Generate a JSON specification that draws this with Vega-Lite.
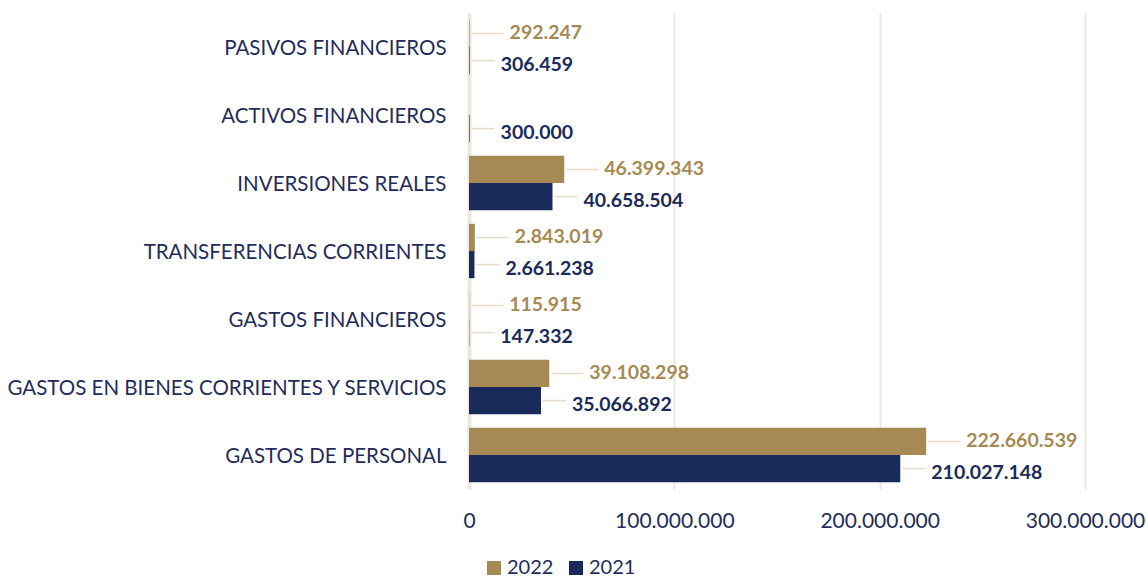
{
  "$schema": "https://vega.github.io/schema/vega-lite/v6.json",
  "autosize": "none",
  "width": 616,
  "height": 476,
  "padding": {"left": 469, "top": 13, "right": 62, "bottom": 90},
  "background": "white",
  "config": {
    "view": {"stroke": null},
    "font": "Lato",
    "locale": {"number": {"decimal": ",", "thousands": ".", "grouping": [3], "currency": ["", " €"]}}
  },
  "data": {
    "values": [
      {"categoria": "PASIVOS FINANCIEROS", "serie": "2022", "valor": 292247},
      {"categoria": "PASIVOS FINANCIEROS", "serie": "2021", "valor": 306459},
      {"categoria": "ACTIVOS FINANCIEROS", "serie": "2021", "valor": 300000},
      {"categoria": "INVERSIONES REALES", "serie": "2022", "valor": 46399343},
      {"categoria": "INVERSIONES REALES", "serie": "2021", "valor": 40658504},
      {"categoria": "TRANSFERENCIAS CORRIENTES", "serie": "2022", "valor": 2843019},
      {"categoria": "TRANSFERENCIAS CORRIENTES", "serie": "2021", "valor": 2661238},
      {"categoria": "GASTOS FINANCIEROS", "serie": "2022", "valor": 115915},
      {"categoria": "GASTOS FINANCIEROS", "serie": "2021", "valor": 147332},
      {"categoria": "GASTOS EN BIENES CORRIENTES Y SERVICIOS", "serie": "2022", "valor": 39108298},
      {"categoria": "GASTOS EN BIENES CORRIENTES Y SERVICIOS", "serie": "2021", "valor": 35066892},
      {"categoria": "GASTOS DE PERSONAL", "serie": "2022", "valor": 222660539},
      {"categoria": "GASTOS DE PERSONAL", "serie": "2021", "valor": 210027148}
    ]
  },
  "encoding": {
    "y": {
      "field": "categoria",
      "type": "nominal",
      "sort": ["PASIVOS FINANCIEROS", "ACTIVOS FINANCIEROS", "INVERSIONES REALES", "TRANSFERENCIAS CORRIENTES", "GASTOS FINANCIEROS", "GASTOS EN BIENES CORRIENTES Y SERVICIOS", "GASTOS DE PERSONAL"],
      "scale": {"paddingInner": 0.2, "paddingOuter": 0.1},
      "axis": {
        "title": null,
        "ticks": false,
        "domain": true,
        "domainColor": "#EEE8DC",
        "domainWidth": 4,
        "labelFont": "Lato",
        "labelFontSize": 20.5,
        "labelColor": "#1F2D5C",
        "labelPadding": 23,
        "labelOffset": 2,
        "labelLimit": 600
      }
    },
    "yOffset": {"field": "serie", "type": "nominal", "sort": ["2022", "2021"]},
    "x": {
      "field": "valor",
      "type": "quantitative",
      "scale": {"domain": [0, 300000000], "nice": false},
      "axis": {
        "title": null,
        "values": [0, 100000000, 200000000, 300000000],
        "format": ",d",
        "domain": false,
        "ticks": false,
        "grid": true,
        "gridColor": "#EEE8DC",
        "gridWidth": 2,
        "labelFont": "Lato",
        "labelFontSize": 21,
        "labelColor": "#1F2D5C",
        "labelPadding": 21,
        "labelFlush": false
      }
    }
  },
  "layer": [
    {
      "mark": {"type": "bar"},
      "encoding": {
        "color": {
          "field": "serie",
          "type": "nominal",
          "sort": ["2022", "2021"],
          "scale": {"domain": ["2022", "2021"], "range": ["#A68A54", "#1A2A5B"]},
          "legend": {
            "title": null,
            "orient": "none",
            "direction": "horizontal",
            "legendX": 15,
            "legendY": 545,
            "symbolType": "square",
            "symbolSize": 196,
            "symbolStrokeWidth": 0,
            "labelFont": "Lato",
            "labelFontSize": 20,
            "labelColor": "#1F2D5C",
            "labelOffset": 3,
            "columnPadding": 12,
            "padding": 0
          }
        }
      }
    },
    {
      "transform": [{"filter": "datum.serie === '2022'"}],
      "mark": {"type": "rule", "color": "#E6DCC8", "strokeWidth": 1.5, "xOffset": 2, "x2Offset": 34},
      "encoding": {"x2": {"field": "valor"}}
    },
    {
      "transform": [{"filter": "datum.serie === '2021'"}],
      "mark": {"type": "rule", "color": "#E6DCC8", "strokeWidth": 1.5, "xOffset": 2, "x2Offset": 25},
      "encoding": {"x2": {"field": "valor"}}
    },
    {
      "transform": [{"filter": "datum.serie === '2022'"}],
      "mark": {"type": "text", "align": "left", "baseline": "middle", "dx": 40, "dy": 0, "font": "Lato", "fontWeight": "bold", "fontSize": 19.5, "color": "#A68A54"},
      "encoding": {"text": {"field": "valor", "type": "quantitative", "format": ",d"}}
    },
    {
      "transform": [{"filter": "datum.serie === '2021'"}],
      "mark": {"type": "text", "align": "left", "baseline": "middle", "dx": 31, "dy": 4, "font": "Lato", "fontWeight": "bold", "fontSize": 19.5, "color": "#1A2A5B"},
      "encoding": {"text": {"field": "valor", "type": "quantitative", "format": ",d"}}
    }
  ]
}
